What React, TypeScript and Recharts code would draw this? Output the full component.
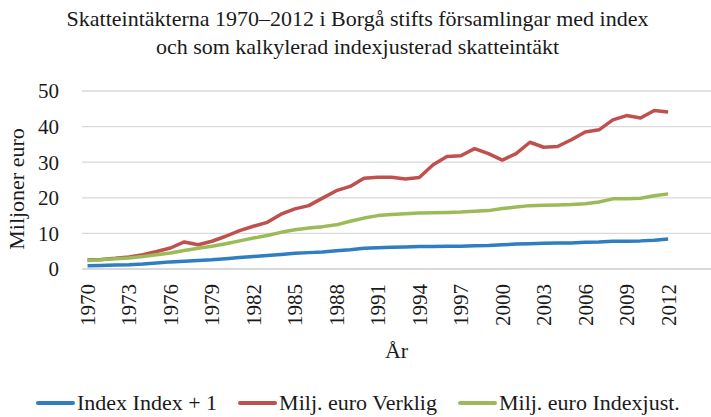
import React from 'react';
import { LineChart, Line, XAxis, YAxis, CartesianGrid } from 'recharts';

const years = [
  1970, 1971, 1972, 1973, 1974, 1975, 1976, 1977, 1978, 1979,
  1980, 1981, 1982, 1983, 1984, 1985, 1986, 1987, 1988, 1989,
  1990, 1991, 1992, 1993, 1994, 1995, 1996, 1997, 1998, 1999,
  2000, 2001, 2002, 2003, 2004, 2005, 2006, 2007, 2008, 2009,
  2010, 2011, 2012,
];

const indexPlusOne = [
  0.9, 1.0, 1.1, 1.2, 1.4, 1.7, 2.0, 2.2, 2.4, 2.6,
  2.9, 3.2, 3.5, 3.8, 4.1, 4.4, 4.6, 4.8, 5.1, 5.4,
  5.8, 6.0, 6.1, 6.2, 6.3, 6.3, 6.4, 6.4, 6.5, 6.6,
  6.8, 7.0, 7.1, 7.2, 7.3, 7.3, 7.5, 7.6, 7.8, 7.8,
  7.9, 8.1, 8.4,
];

const verklig = [
  2.5, 2.7, 3.0, 3.4, 4.0, 4.9, 5.9, 7.6, 6.8, 7.8,
  9.2, 10.8, 12.0, 13.1, 15.4, 16.9, 17.8, 19.9, 22.0, 23.2,
  25.5, 25.8, 25.8, 25.3, 25.7, 29.3, 31.6, 31.8, 33.8, 32.4,
  30.6, 32.4, 35.6, 34.2, 34.4, 36.3, 38.5, 39.1, 41.9, 43.1,
  42.4, 44.5, 44.1,
];

const indexjust = [
  2.4, 2.6, 2.9, 3.1, 3.5, 4.0, 4.5, 5.2, 5.8, 6.4,
  7.1, 7.9, 8.7, 9.4, 10.3, 11.0, 11.5, 11.9, 12.4, 13.4,
  14.3, 15.0, 15.3, 15.5, 15.7, 15.8, 15.9, 16.0, 16.2, 16.4,
  17.0, 17.4, 17.8, 17.9, 18.0, 18.1, 18.3, 18.8, 19.7, 19.7,
  19.9, 20.6, 21.1,
];

const yearTicks = [1970, 1973, 1976, 1979, 1982, 1985, 1988, 1991, 1994, 1997, 2000, 2003, 2006, 2009, 2012];
const valueTicks = [0, 10, 20, 30, 40, 50];

const BLUE = '#2f7ec1';
const RED = '#c0504d';
const GREEN = '#9bbb59';
const FONT = '"Liberation Serif", "Times New Roman", serif';
const TEXT = '#1a1a1a';

const series = [
  { key: 'index', name: 'Index Index + 1', color: BLUE },
  { key: 'verklig', name: 'Milj. euro Verklig', color: RED },
  { key: 'indexjust', name: 'Milj. euro Indexjust.', color: GREEN },
];

const data = years.map((year, i) => ({
  year,
  index: indexPlusOne[i],
  verklig: verklig[i],
  indexjust: indexjust[i],
}));

const YearTick = ({ x, y, payload }: any) => (
  <text
    transform={`translate(${x},${y}) rotate(-90)`}
    textAnchor="end"
    dy="0.35em"
    fontSize={21}
    fontFamily={FONT}
    fill={TEXT}
  >
    {payload.value}
  </text>
);

export default function App() {
  return (
    <div style={{ position: 'absolute', left: 0, top: 0, width: 711, height: 417, background: '#fff', fontFamily: FONT, color: TEXT }}>
      <div style={{ position: 'absolute', left: 0, top: 5, width: 715, textAlign: 'center', fontSize: 22, lineHeight: '28px' }}>
        Skatteintäkterna 1970–2012 i Borgå stifts församlingar med index
        <br />
        och som kalkylerad indexjusterad skatteintäkt
      </div>
      <LineChart
        width={711}
        height={417}
        data={data}
        margin={{ top: 91, right: 0, bottom: 0, left: 0 }}
      >
        <CartesianGrid horizontal vertical={false} stroke="#d9d9d9" strokeWidth={1.3} />
        <XAxis
          dataKey="year"
          type="number"
          domain={[1969.6, 2015.1]}
          ticks={yearTicks}
          interval={0}
          allowDataOverflow
          height={148}
          tickLine={false}
          tickSize={0}
          tickMargin={15}
          axisLine={{ stroke: '#d9d9d9', strokeWidth: 2 }}
          tick={<YearTick />}
          label={({ viewBox }: any) => (
            <text
              x={viewBox.x + viewBox.width / 2}
              y={viewBox.y + 84}
              textAnchor="middle"
              dominantBaseline="middle"
              fontSize={22}
              fontFamily={FONT}
              fill={TEXT}
            >
              År
            </text>
          )}
        />
        <YAxis
          domain={[0, 50]}
          ticks={valueTicks}
          width={82}
          axisLine={false}
          tickLine={false}
          tickSize={0}
          tickMargin={23}
          tick={{ fontSize: 21, fontFamily: FONT, fill: TEXT }}
          label={({ viewBox }: any) => (
            <text
              transform={`translate(${viewBox.x + 19},${viewBox.y + viewBox.height / 2 + 9}) rotate(-90)`}
              textAnchor="middle"
              dominantBaseline="middle"
              fontSize={22}
              fontFamily={FONT}
              fill={TEXT}
            >
              Miljoner euro
            </text>
          )}
        />
        {series.map((s) => (
          <Line
            key={s.key}
            type="linear"
            dataKey={s.key}
            name={s.name}
            stroke={s.color}
            strokeWidth={3.5}
            strokeLinejoin="round"
            dot={false}
            activeDot={false}
            isAnimationActive={false}
          />
        ))}
      </LineChart>
      <div style={{ position: 'absolute', left: 36, top: 391, display: 'flex', alignItems: 'center', fontSize: 22, lineHeight: '24px' }}>
        {series.map((s) => (
          <div key={s.key} style={{ display: 'flex', alignItems: 'center', marginRight: 21 }}>
            <span style={{ display: 'inline-block', width: 39, height: 4, borderRadius: 2, background: s.color, marginRight: 2 }} />
            <span>{s.name}</span>
          </div>
        ))}
      </div>
    </div>
  );
}
